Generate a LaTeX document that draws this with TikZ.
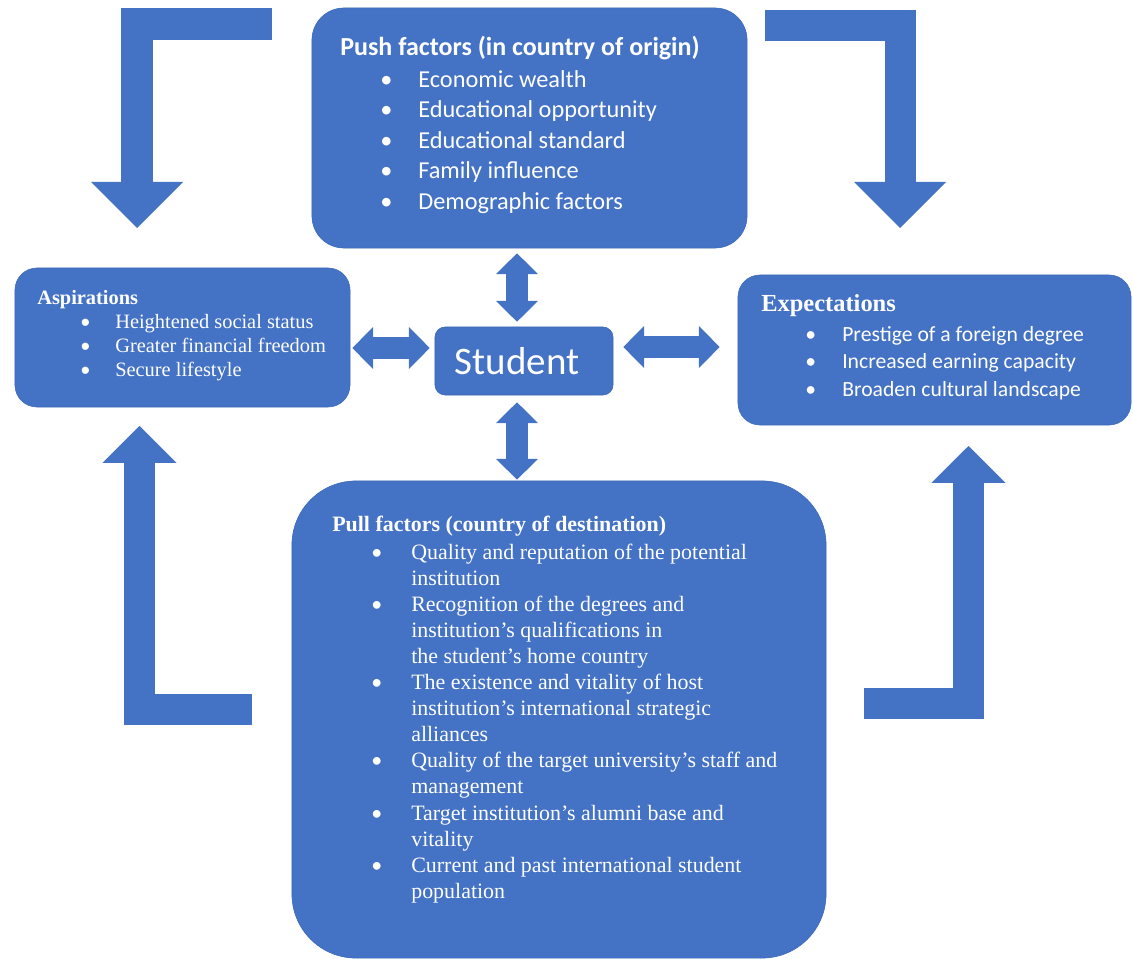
\documentclass[tikz,border=0pt]{standalone}
\usepackage{fontspec}
\setmainfont{Liberation Serif}
\newfontfamily\calib{Carlito}
\usetikzlibrary{arrows.meta,positioning,calc}
\definecolor{boxblue}{HTML}{4472C4}
\definecolor{boxline}{HTML}{3E69B5}

% bullet line: indent, bullet box, text
\newcommand{\bitem}[3]{\hspace*{#1}\makebox[#2][l]{\calib\textbullet}#3}
\newcommand{\bcont}[2]{\hspace*{#1}#2}

\begin{document}
\begin{tikzpicture}[x=0.025cm, y=-0.025cm,
    box/.style={draw=boxline, line width=0.4pt, fill=boxblue, inner sep=0pt},
    txt/.style={anchor=north west, inner sep=0pt, align=left, text=white},
    dbl/.style={boxblue, line width=0.55cm, {Triangle[width=1.05cm,length=0.52cm,line width=0pt]}-{Triangle[width=1.05cm,length=0.52cm,line width=0pt]}},
    bentarrow/.style={boxblue, line width=0.775cm, line join=miter},
    bigtip/.style={-{Triangle[width=2.3cm,length=1.15cm,line width=0pt]}},
    smalltip/.style={-{Triangle[width=1.85cm,length=0.92cm,line width=0pt]}},
]
\useasboundingbox (0,0) rectangle (1133,959);

% Boxes
\node[box, rounded corners=0.8cm, minimum width=10.875cm, minimum height=6cm] (push) at (529.5,128) {};
\node[box, rounded corners=0.55cm, minimum width=8.375cm, minimum height=3.475cm] (asp) at (182.5,337.5) {};
\node[box, rounded corners=0.25cm, minimum width=4.45cm, minimum height=1.7cm, text=white,
      font=\calib\fontsize{27.7}{33}\selectfont] (student) at (524,361) {Student\hspace*{0.35cm}};
\node[box, rounded corners=0.55cm, minimum width=9.825cm, minimum height=3.75cm] (exp) at (934.5,350) {};
\node[box, rounded corners=1.6cm, minimum width=13.35cm, minimum height=11.925cm] (pull) at (559,719.5) {};

% Box texts
\node[txt, font=\calib\fontsize{17.3}{21.7}\selectfont] (pushtxt) at (340,35.5) {%
  {\bfseries\fontsize{18.5}{22}\selectfont Push factors (in country of origin)}\\[1.1pt]
  \bitem{1cm}{0.95cm}{Economic wealth}\\
  \bitem{1cm}{0.95cm}{Educational opportunity}\\
  \bitem{1cm}{0.95cm}{Educational standard}\\
  \bitem{1cm}{0.95cm}{Family influence}\\
  \bitem{1cm}{0.95cm}{Demographic factors}};

\node[txt, font=\fontsize{14.5}{17.1}\selectfont] (asptxt) at (37,290) {%
  {\bfseries Aspirations}\\
  \bitem{1.075cm}{0.875cm}{Heightened social status}\\
  \bitem{1.075cm}{0.875cm}{Greater financial freedom}\\
  \bitem{1.075cm}{0.875cm}{Secure lifestyle}};

\node[txt, font=\calib\fontsize{15.4}{19.6}\selectfont] (exptxt) at (761,294) {%
  {\rmfamily\bfseries\fontsize{17.4}{20}\selectfont Expectations}\\[1.7pt]
  \bitem{1.1cm}{0.925cm}{Prestige of a foreign degree}\\
  \bitem{1.1cm}{0.925cm}{Increased earning capacity}\\
  \bitem{1.1cm}{0.925cm}{Broaden cultural landscape}};

\node[txt, font=\fontsize{15.6}{18.5}\selectfont] (pulltxt) at (332,516) {%
  {\bfseries Pull factors (country of destination)}\\[1.5pt]
  \bitem{0.975cm}{1cm}{Quality and reputation of the potential}\\
  \bcont{1.975cm}{institution}\\
  \bitem{0.975cm}{1cm}{Recognition of the degrees and}\\
  \bcont{1.975cm}{institution's qualifications in}\\
  \bcont{1.975cm}{the student's home country}\\
  \bitem{0.975cm}{1cm}{The existence and vitality of host}\\
  \bcont{1.975cm}{institution's international strategic}\\
  \bcont{1.975cm}{alliances}\\
  \bitem{0.975cm}{1cm}{Quality of the target university's staff and}\\
  \bcont{1.975cm}{management}\\
  \bitem{0.975cm}{1cm}{Target institution's alumni base and}\\
  \bcont{1.975cm}{vitality}\\
  \bitem{0.975cm}{1cm}{Current and past international student}\\
  \bcont{1.975cm}{population}};

% Double arrows round the student
\draw[dbl] ($(push.south)+(-12.5,5)$) -- ($(student.north)+(-7,-5)$);
\draw[dbl] ($(student.south)+(-7,7)$) -- ($(student.south |- pull.north)+(-7,-1)$);
\draw[dbl] ($(asp.east |- student.west)+(2,-13)$) -- ($(student.west)+(-5,-13)$);
\draw[dbl] ($(student.east)+(10,-14)$) -- ($(exp.west |- student.east)+(-18,-14)$);

% Bent arrows
\coordinate (tlfrom) at (272,24);
\coordinate (tlto) at (137,228);
\coordinate (trfrom) at (765,25.5);
\coordinate (trto) at (900,228);
\coordinate (blfrom) at (252,709);
\coordinate (blto) at (139.5,426);
\coordinate (brfrom) at (864,703.5);
\coordinate (brto) at (968.5,446);
\draw[bentarrow, bigtip] (tlfrom) -| (tlto);
\draw[bentarrow, bigtip] (trfrom) -| (trto);
\draw[bentarrow, smalltip] (blfrom) -| (blto);
\draw[bentarrow, smalltip] (brfrom) -| (brto);
\end{tikzpicture}
\end{document}
